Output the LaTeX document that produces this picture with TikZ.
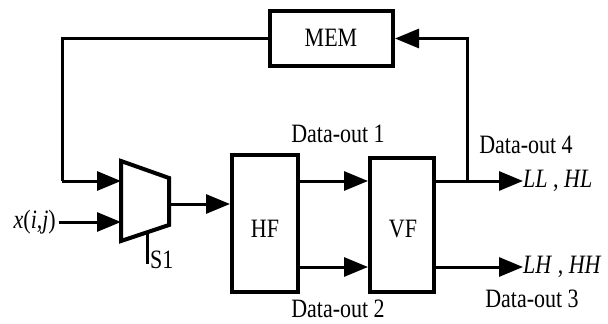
\documentclass[tikz,border=0pt]{standalone}
\usepackage{fontspec}
\setmainfont{Liberation Serif}[FakeStretch=0.83]
\usetikzlibrary{arrows.meta}
\begin{document}
\begin{tikzpicture}[x=1pt,y=-1pt,
  box/.style={draw,line width=4pt,inner sep=0pt},
  wire/.style={line width=3pt},
  arr/.style={wire,-{Triangle[length=24pt,width=19pt]}},
  lbl/.style={inner sep=0pt,font=\fontsize{26.5}{28}\selectfont}]
\useasboundingbox (0,0) rectangle (608,324);
% blocks
\node[box,minimum width=123pt,minimum height=55pt] (mem) at (331.5,38.5) {};
\node[box,minimum width=66pt,minimum height=137pt] (hf) at (265,223.5) {};
\node[box,minimum width=64pt,minimum height=134pt] (vf) at (402,225) {};
\node[lbl] (memt) at (331,38) {MEM};
\node[lbl] (hft) at (265,229) {HF};
\node[lbl] (vft) at (403,229) {VF};
% mux
\coordinate (m1) at (121,161);
\coordinate (m2) at (169,178);
\coordinate (m3) at (169,225);
\coordinate (m4) at (121,241);
\draw[line width=4pt,line join=miter] (m1) -- (m2) -- (m3) -- (m4) -- cycle;
\coordinate (in1) at (121,181);
\coordinate (in2) at (121,222);
\coordinate (mout) at (169,204);
\coordinate (sel) at (147,232.5);
\coordinate (selend) at (147,264);
% row coordinates
\coordinate (r1) at (0,181);
\coordinate (r2) at (0,267);
\coordinate (lc) at (62,181);
\coordinate (jn) at (467,181);
% labels
\node[lbl,anchor=east] (xl) at (56,222) {\textit{x}(\textit{i},\textit{j})};
\node[lbl,anchor=west] (s1) at (150,260) {S1};
\node[lbl] (d1) at (338,134) {Data-out 1};
\node[lbl] (d2) at (338,309) {Data-out 2};
\node[lbl] (d4) at (526,145) {Data-out 4};
\node[lbl] (d3) at (532,299) {Data-out 3};
\node[lbl,anchor=west] (ll) at (523,181) {\textit{LL} , \textit{HL}};
\node[lbl,anchor=west] (lh) at (523,267) {\textit{LH} , \textit{HH}};
% connectors
\draw[wire] (mem.west) -| (lc);
\draw[arr] (lc) -- (in1);
\draw[arr] (xl.east) ++(3pt,0) -- (in2);
\draw[arr] (mout) -- (mout -| hf.west);
\draw[wire] (sel) -- (selend);
\draw[arr] (hf.east |- r1) -- (vf.west |- r1);
\draw[arr] (hf.east |- r2) -- (vf.west |- r2);
\draw[arr] (vf.east |- r1) -- (ll.west);
\draw[arr] (vf.east |- r2) -- (lh.west);
\draw[arr] (jn) |- (mem.east);
\end{tikzpicture}
\end{document}
